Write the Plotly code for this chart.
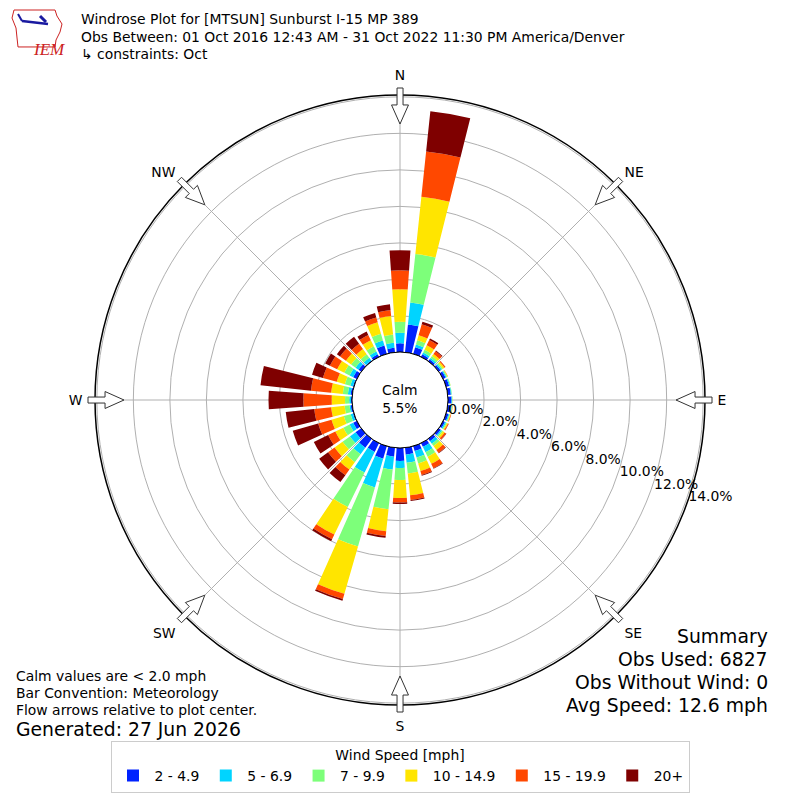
import math
import plotly.graph_objects as go

# ---------------- data ----------------
directions = list(range(0, 360, 10))
speed_bins = ["2 - 4.9", "5 - 6.9", "7 - 9.9", "10 - 14.9", "15 - 19.9", "20+"]
bin_colors = ["#0022ff", "#00d4ff", "#7dff7a", "#ffe500", "#ff4800", "#7f0000"]

pct_2_5 = [0.50, 1.56, 0.41, 0.18, 0.15, 0.15, 0.18, 0.20, 0.20, 0.22, 0.20, 0.16,
           0.14, 0.16, 0.19, 0.25, 0.30, 0.41, 0.74, 0.52, 0.74, 0.56, 0.63, 0.41,
           0.25, 0.08, 0.11, 0.08, 0.12, 0.08, 0.25, 0.21, 0.07, 0.18, 0.50, 0.27]
pct_5_7 = [0.58, 1.21, 0.15, 0.11, 0.10, 0.08, 0.06, 0.05, 0.04, 0.03, 0.05, 0.05,
           0.07, 0.08, 0.17, 0.33, 0.38, 0.44, 0.38, 0.71, 1.64, 1.26, 0.44, 0.38,
           0.22, 0.13, 0.07, 0.10, 0.15, 0.15, 0.22, 0.20, 0.19, 0.17, 0.29, 0.28]
pct_7_10 = [0.60, 2.67, 0.24, 0.17, 0.12, 0.08, 0.05, 0.03, 0.02, 0.02, 0.03, 0.04,
            0.05, 0.08, 0.16, 0.27, 0.33, 0.60, 0.66, 2.19, 3.36, 2.10, 0.54, 0.50,
            0.38, 0.39, 0.27, 0.23, 0.28, 0.31, 0.32, 0.30, 0.24, 0.32, 0.39, 0.46]
pct_10_15 = [1.78, 3.15, 0.29, 0.27, 0.15, 0.10, 0.03, 0.01, 0.00, 0.01, 0.02, 0.04,
             0.06, 0.10, 0.27, 0.44, 0.44, 1.20, 0.98, 1.20, 2.70, 1.68, 0.50, 0.54,
             0.49, 0.70, 0.74, 0.73, 0.64, 0.46, 0.44, 0.35, 0.35, 0.37, 0.65, 1.02]
pct_15_20 = [1.04, 2.49, 0.62, 0.32, 0.18, 0.06, 0.01, 0.00, 0.00, 0.00, 0.01, 0.03,
             0.05, 0.10, 0.19, 0.27, 0.22, 0.25, 0.25, 0.27, 0.30, 0.28, 0.38, 0.44,
             0.44, 0.76, 0.93, 1.55, 1.11, 0.79, 0.44, 0.40, 0.36, 0.32, 0.27, 0.32]
pct_20_up = [1.10, 2.22, 0.15, 0.10, 0.05, 0.01, 0.00, 0.00, 0.00, 0.00, 0.00, 0.00,
             0.01, 0.02, 0.03, 0.03, 0.05, 0.06, 0.08, 0.10, 0.09, 0.12, 0.46, 0.60,
             0.87, 1.45, 1.57, 1.91, 2.78, 0.62, 0.29, 0.21, 0.47, 0.21, 0.26, 0.32]
series = [pct_2_5, pct_5_7, pct_7_10, pct_10_15, pct_15_20, pct_20_up]

ring_values = [0, 2, 4, 6, 8, 10, 12, 14]
ring_labels = ["%.1f%%" % v for v in ring_values]
compass_angles = [0, 45, 90, 135, 180, 225, 270, 315]
compass_labels = ["N", "NE", "E", "SE", "S", "SW", "W", "NW"]

calm_pct = 5.5
title_lines = ["Windrose Plot for [MTSUN] Sunburst I-15 MP 389",
               "Obs Between: 01 Oct 2016 12:43 AM - 31 Oct 2022 11:30 PM America/Denver",
               "\u21b3 constraints: Oct"]
notes_lines = ["Calm values are < 2.0 mph", "Bar Convention: Meteorology",
               "Flow arrows relative to plot center."]
generated = "Generated: 27 Jun 2026"
summary_lines = ["Summary", "Obs Used: 6827", "Obs Without Wind: 0", "Avg Speed: 12.6 mph"]

FONT = "DejaVu Sans"
FS = 13.9
FS_BIG = 18.8
W = H = 800
CX, CY = 400, 400
R_OUT = 305
R_HOLE = 47.5

def px(x):
    return x / W

def py(y):
    return 1 - y / H

fig = go.Figure()
for name, color, vals in zip(speed_bins, bin_colors, series):
    fig.add_trace(go.Barpolar(
        r=vals, theta=directions, width=[8] * len(directions), name=name,
        marker=dict(color=color, line=dict(width=0)),
    ))

dom = [px(CX - R_OUT), px(CX + R_OUT)]
fig.update_layout(
    width=W, height=H, margin=dict(l=0, r=0, t=0, b=0),
    paper_bgcolor="white", plot_bgcolor="white",
    font=dict(family=FONT, size=FS, color="black"),
    polar=dict(
        domain=dict(x=dom, y=dom),
        hole=R_HOLE / R_OUT,
        bgcolor="white",
        barmode="stack",
        radialaxis=dict(range=[0, 14.1], tickvals=ring_values, ticktext=ring_labels,
                        angle=-20, tickangle=-20, side="counterclockwise",
                        showline=False, ticks="",
                        gridcolor="#b0b0b0", gridwidth=1,
                        tickfont=dict(family=FONT, size=FS, color="black")),
        angularaxis=dict(rotation=90, direction="clockwise",
                         tickvals=compass_angles, ticktext=compass_labels,
                         ticks="outside", ticklen=9, tickcolor="rgba(0,0,0,0)",
                         showline=True, linecolor="black", linewidth=1.5,
                         gridcolor="#b0b0b0", gridwidth=1,
                         tickfont=dict(family=FONT, size=FS, color="black")),
    ),
    legend=dict(orientation="h", x=0.5, xanchor="center", y=py(741), yanchor="top",
                title=dict(text="Wind Speed [mph]", side="top center",
                           font=dict(family=FONT, size=FS)),
                bordercolor="#cccccc", borderwidth=1, bgcolor="white",
                font=dict(family=FONT, size=FS), traceorder="normal",
                itemwidth=33, itemsizing="constant"),
    showlegend=True,
)

shapes = []
shapes.append(dict(type="circle", xref="paper", yref="paper",
                   x0=px(CX - 48), x1=px(CX + 48), y0=py(CY + 48), y1=py(CY - 48),
                   line=dict(color="black", width=1), fillcolor="white", layer="above"))
for ang in compass_angles:
    t = math.radians(ang)
    ox, oy = math.sin(t), -math.cos(t)
    qx, qy = math.cos(t), math.sin(t)
    pts = [(312, -3), (295, -3), (295, -8.5), (276, 0), (295, 8.5), (295, 3), (312, 3)]
    path = ""
    for i, (d, w) in enumerate(pts):
        X = CX + d * ox + w * qx
        Y = CY + d * oy + w * qy
        path += ("M" if i == 0 else "L") + " %.4f %.4f " % (px(X), py(Y))
    path += "Z"
    shapes.append(dict(type="path", xref="paper", yref="paper", path=path,
                       fillcolor="white", line=dict(color="#333333", width=1), layer="above"))

logo = [(14, 10), (55, 10), (57, 16), (62, 24), (60, 32), (56, 40), (55, 47),
        (18, 47), (17, 38), (16, 28), (12, 18)]
path = "".join(("M" if i == 0 else "L") + " %.4f %.4f " % (px(x), py(y))
               for i, (x, y) in enumerate(logo)) + "Z"
shapes.append(dict(type="path", xref="paper", yref="paper", path=path,
                   line=dict(color="#cc2222", width=1), fillcolor="rgba(0,0,0,0)"))
shapes.append(dict(type="line", xref="paper", yref="paper",
                   x0=px(22), y0=py(21), x1=px(48), y1=py(24),
                   line=dict(color="#1a1aa0", width=2.5)))
shapes.append(dict(type="line", xref="paper", yref="paper",
                   x0=px(22), y0=py(21), x1=px(18), y1=py(14),
                   line=dict(color="#1a1aa0", width=2)))
shapes.append(dict(type="line", xref="paper", yref="paper",
                   x0=px(40), y0=py(16), x1=px(46), y1=py(22),
                   line=dict(color="#1a1aa0", width=3)))
fig.update_layout(shapes=shapes)

ann = []
ann.append(dict(text="Calm<br>%.1f%%" % calm_pct, x=0.5, y=py(399), xref="paper", yref="paper",
                showarrow=False, font=dict(family=FONT, size=FS), align="center"))
for i, line in enumerate(title_lines):
    ann.append(dict(text=line, x=px(79), y=py(19 + 17.5 * i), xref="paper", yref="paper",
                    xanchor="left", yanchor="middle", showarrow=False,
                    font=dict(family=FONT, size=FS)))
for i, line in enumerate(notes_lines):
    ann.append(dict(text=line, x=px(14), y=py(676 + 17 * i), xref="paper", yref="paper",
                    xanchor="left", yanchor="middle", showarrow=False,
                    font=dict(family=FONT, size=FS)))
ann.append(dict(text=generated, x=px(14), y=py(729), xref="paper", yref="paper",
                xanchor="left", yanchor="middle", showarrow=False,
                font=dict(family=FONT, size=FS_BIG)))
for i, line in enumerate(summary_lines):
    ann.append(dict(text=line, x=px(770), y=py(636 + 23.3 * i), xref="paper", yref="paper",
                    xanchor="right", yanchor="middle", showarrow=False,
                    font=dict(family=FONT, size=FS_BIG)))
ann.append(dict(text="<i>IEM</i>", x=px(31), y=py(38), xref="paper", yref="paper",
                showarrow=False, font=dict(family="Liberation Serif", size=17, color="#cc2222")))
fig.update_layout(annotations=ann)

fig.write_html("out.html", config={"displayModeBar": False},
               post_script="document.body.style.margin='0';document.body.style.padding='0';")
